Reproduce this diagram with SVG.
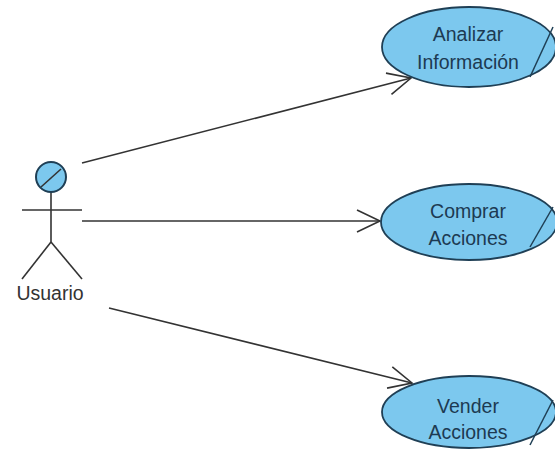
<svg xmlns="http://www.w3.org/2000/svg" width="555" height="449" viewBox="0 0 555 449">
<defs>
<style>
.uc ellipse{fill:#7cc8ee;stroke:#1f3f55;stroke-width:1.8}
.uc line{stroke:#1f3f55;stroke-width:1.5}
.uc text{font-family:"Liberation Sans",Arial,sans-serif;font-size:19.5px;fill:#1d3a52;text-anchor:middle}
.conn line{stroke:#333;stroke-width:1.6;fill:none}
.actor line{stroke:#333;stroke-width:1.6}
</style>
<marker id="open" markerUnits="userSpaceOnUse" markerWidth="30" markerHeight="30" refX="24" refY="12" orient="auto">
<path d="M1,1 L24,12 L1,23" fill="none" stroke="#333" stroke-width="1.6"/>
</marker>
</defs>
<rect width="555" height="449" fill="#fff"/>
<g id="usuario" class="actor">
<line x1="51" y1="192" x2="51" y2="242"/>
<line x1="22" y1="210" x2="82" y2="210"/>
<line x1="51" y1="242" x2="22" y2="279"/>
<line x1="51" y1="242" x2="82" y2="279"/>
<circle cx="51" cy="177" r="15" fill="#7cc8ee" stroke="#1f3f55" stroke-width="2"/>
<line x1="41" y1="187" x2="61" y2="169" stroke="#1f3f55" stroke-width="2"/>
<text x="50" y="300" font-family="Liberation Sans,Arial,sans-serif" font-size="19.5" fill="#333" text-anchor="middle">Usuario</text>
</g>
<g id="connectors" class="conn">
<line x1="82" y1="163" x2="411" y2="78" marker-end="url(#open)"/>
<line x1="82" y1="221" x2="380" y2="221" marker-end="url(#open)"/>
<line x1="109" y1="308" x2="412" y2="383" marker-end="url(#open)"/>
</g>
<g id="analizar" class="uc">
<ellipse cx="469" cy="47" rx="87" ry="40"/>
<line x1="530" y1="77" x2="553" y2="27"/>
<text x="468" y="41">Analizar</text>
<text x="468" y="69">Información</text>
</g>
<g id="comprar" class="uc">
<ellipse cx="469" cy="222" rx="88" ry="38"/>
<line x1="530" y1="247" x2="553" y2="207"/>
<text x="468" y="218">Comprar</text>
<text x="468" y="245">Acciones</text>
</g>
<g id="vender" class="uc">
<ellipse cx="469" cy="412" rx="87" ry="36"/>
<line x1="530" y1="445" x2="553" y2="400"/>
<text x="468" y="413">Vender</text>
<text x="468" y="439">Acciones</text>
</g>
</svg>
